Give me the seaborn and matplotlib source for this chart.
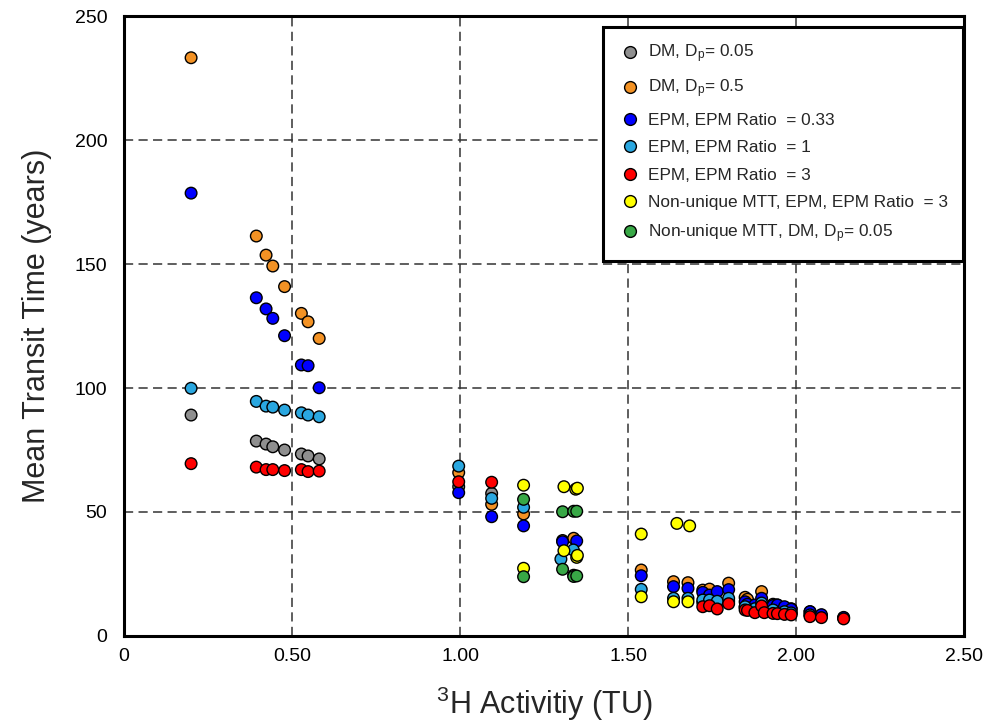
import numpy as np
import pandas as pd
import matplotlib
matplotlib.use("Agg")
import matplotlib.pyplot as plt
import seaborn as sns

# ---------------- data ----------------
labels = [
    "DM, D$_{p}$= 0.05",
    "DM, D$_{p}$= 0.5",
    "EPM, EPM Ratio  = 0.33",
    "EPM, EPM Ratio  = 1",
    "EPM, EPM Ratio  = 3",
    "Non-unique MTT, EPM, EPM Ratio  = 3",
    "Non-unique MTT, DM, D$_{p}$= 0.05",
]
colors = ["#8f8f8f", "#f39224", "#0000ff", "#2aa7e0", "#ff0000", "#ffff00", "#38a846"]

dm005_x = [0.20, 0.394, 0.423, 0.443, 0.478, 0.528, 0.548, 0.581, 0.996, 1.094, 1.338,
           1.722, 1.742, 1.765, 1.799, 1.848, 1.855, 1.877, 1.897, 1.905, 1.931, 1.944,
           1.965, 1.985, 2.041, 2.075, 2.141]
dm005_y = [89.1, 78.6, 77.4, 76.3, 75.0, 73.4, 72.6, 71.4, 60.2, 57.5, 24.5,
           13.5, 13.8, 12.8, 14.0, 11.5, 11.0, 10.5, 13.0, 10.3, 10.2, 10.0,
           9.6, 9.3, 8.5, 8.0, 7.3]

dm05_x = [0.20, 0.394, 0.423, 0.443, 0.478, 0.528, 0.548, 0.581, 0.996, 1.094, 1.189,
          1.305, 1.338, 1.539, 1.635, 1.678, 1.722, 1.742, 1.799, 1.848, 1.855, 1.897,
          1.931, 1.944, 1.965, 1.985, 2.041]
dm05_y = [233.2, 161.3, 153.6, 149.2, 140.9, 130.1, 126.7, 120.0, 65.9, 53.1, 49.2,
          38.5, 39.4, 26.6, 21.9, 21.5, 18.5, 18.9, 21.3, 15.6, 14.8, 17.9,
          12.8, 12.5, 11.5, 11.0, 9.8]

epm033_x = [0.20, 0.394, 0.423, 0.443, 0.478, 0.528, 0.548, 0.581, 0.996, 1.094, 1.189,
            1.305, 1.347, 1.539, 1.635, 1.678, 1.722, 1.742, 1.765, 1.799, 1.848, 1.855,
            1.877, 1.897, 1.931, 1.944, 1.965, 1.985, 2.041, 2.075, 2.141]
epm033_y = [178.6, 136.4, 131.9, 128.1, 121.1, 109.3, 109.0, 100.1, 57.8, 48.1, 44.4,
            38.0, 38.3, 24.3, 19.9, 19.2, 17.6, 16.5, 17.9, 18.7, 13.8, 12.8,
            12.5, 15.2, 12.3, 12.5, 11.8, 10.8, 9.8, 8.6, 7.5]

epm1_x = [0.20, 0.394, 0.423, 0.443, 0.478, 0.528, 0.548, 0.581, 0.996, 1.094, 1.189,
          1.300, 1.337, 1.539, 1.635, 1.678, 1.722, 1.742, 1.765, 1.799, 1.848, 1.877,
          1.897, 1.931, 1.965, 1.985, 2.041]
epm1_y = [99.9, 94.6, 92.7, 92.3, 91.1, 90.0, 89.1, 88.4, 68.5, 55.5, 51.9,
          31.0, 34.7, 18.8, 15.2, 15.2, 14.5, 14.5, 14.0, 15.2, 11.8, 11.0,
          13.3, 10.5, 9.8, 9.3, 8.5]

epm3_x = [0.20, 0.394, 0.423, 0.443, 0.478, 0.528, 0.548, 0.581, 0.996, 1.094,
          1.722, 1.742, 1.765, 1.799, 1.848, 1.855, 1.877, 1.897, 1.905, 1.931, 1.944,
          1.965, 1.985, 2.041, 2.075, 2.141]
epm3_y = [69.5, 68.1, 67.1, 67.1, 66.7, 67.1, 66.3, 66.5, 62.2, 62.0,
          11.8, 12.2, 10.9, 13.0, 10.5, 10.3, 9.4, 12.1, 9.4, 9.1, 9.0,
          8.7, 8.5, 7.8, 7.4, 6.9]

nu_epm3_x = [1.189, 1.189, 1.309, 1.309, 1.344, 1.349, 1.347, 1.349, 1.539, 1.539,
             1.645, 1.683, 1.635, 1.678]
nu_epm3_y = [60.8, 27.3, 60.2, 34.4, 59.2, 59.6, 31.7, 32.5, 41.1, 15.8,
             45.4, 44.4, 13.8, 13.8]

nu_dm_x = [1.189, 1.189, 1.305, 1.305, 1.338, 1.347, 1.338, 1.347]
nu_dm_y = [55.1, 23.9, 50.1, 26.9, 50.3, 50.3, 24.0, 24.2]

series_x = [dm005_x, dm05_x, epm033_x, epm1_x, epm3_x, nu_epm3_x, nu_dm_x]
series_y = [dm005_y, dm05_y, epm033_y, epm1_y, epm3_y, nu_epm3_y, nu_dm_y]

xticks = [0, 0.5, 1.0, 1.5, 2.0, 2.5]
xticklabels = ["0", "0.50", "1.00", "1.50", "2.00", "2.50"]
yticks = [0, 50, 100, 150, 200, 250]

frames = []
for lab, xs, ys in zip(labels, series_x, series_y):
    frames.append(pd.DataFrame({"x": xs, "y": ys, "series": lab}))
df = pd.concat(frames, ignore_index=True)

# ---------------- style ----------------
sns.set_style("white")
plt.rcParams["font.family"] = ["Liberation Sans", "DejaVu Sans"]
plt.rcParams["mathtext.default"] = "regular"

fig = plt.figure(figsize=(9.83, 7.25), dpi=100)
ax = fig.add_axes([0.126, 0.1228, 0.855, 0.855])

sns.scatterplot(data=df, x="x", y="y", hue="series", hue_order=labels,
                palette=dict(zip(labels, colors)), s=70, edgecolor="black",
                linewidth=1.0, ax=ax, zorder=3, legend=True)

ax.set_xlim(0, 2.5)
ax.set_ylim(0, 250)
ax.set_xticks(xticks)
ax.set_xticklabels(xticklabels)
ax.set_yticks(yticks)

for v in xticks[1:-1]:
    ax.axvline(v, color="#333333", lw=1.1, dashes=(6, 3.5), zorder=1)
for v in yticks[1:-1]:
    ax.axhline(v, color="#333333", lw=1.1, dashes=(6, 3.5), zorder=1)

for sp in ax.spines.values():
    sp.set_visible(True)
    sp.set_color("black")
    sp.set_linewidth(2.2)

ax.tick_params(axis="both", which="both", direction="in", length=4,
               labelsize=14, colors="black", pad=9)
ax.tick_params(axis="y", pad=12)

ax.set_xlabel("$^{3}$H Activitiy (TU)", fontsize=22, labelpad=14)
ax.set_ylabel("Mean Transit Time (years)", fontsize=22, labelpad=16)

handles, hl = ax.get_legend_handles_labels()
for h in handles:
    try:
        h.set_markersize(8.5)
        h.set_markeredgecolor("black")
        h.set_markeredgewidth(1.0)
    except Exception:
        pass
leg = ax.legend(handles, hl, loc="upper right", bbox_to_anchor=(0.999, 0.982),
                fontsize=12.4, frameon=True, fancybox=False, framealpha=1,
                edgecolor="black", borderpad=0.9, labelspacing=0.72,
                handletextpad=0.4, handlelength=1.3, borderaxespad=0)
leg.get_frame().set_linewidth(2.2)
leg.set_zorder(5)

fig.savefig("out.png", dpi=100)
